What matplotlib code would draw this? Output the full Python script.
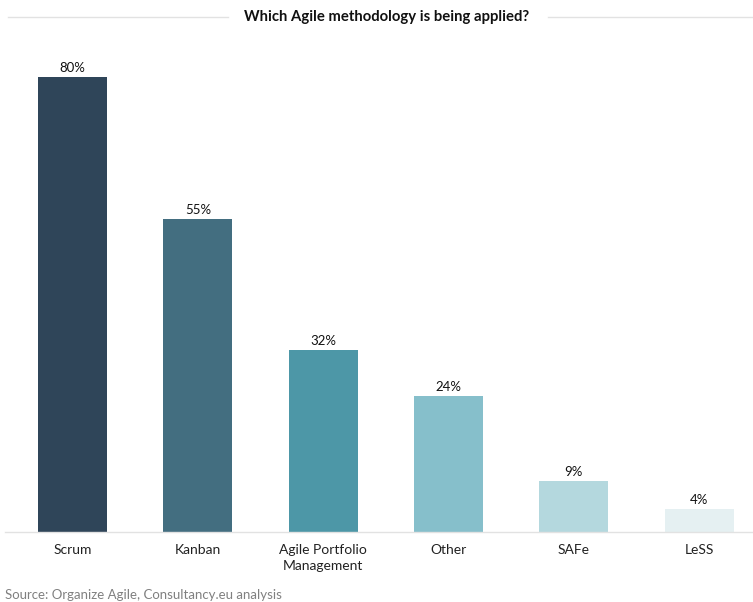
import matplotlib
matplotlib.use("Agg")
import matplotlib.pyplot as plt
from matplotlib.lines import Line2D

categories = ["Scrum", "Kanban", "Agile Portfolio\nManagement", "Other", "SAFe", "LeSS"]
values = [80, 55, 32, 24, 9, 4]
value_labels = ["80%", "55%", "32%", "24%", "9%", "4%"]
colors = ["#2f4559", "#436e80", "#4d97a7", "#86bfcb", "#b4d8de", "#e5f0f2"]
title = "Which Agile methodology is being applied?"
source = "Source: Organize Agile, Consultancy.eu analysis"

plt.rcParams['font.family'] = ['Lato', 'DejaVu Sans']

W, H = 753, 602
fig = plt.figure(figsize=(W / 100, H / 100), dpi=100)

base_px = 532
top_px = 77
ymax = 90
ax_h = (base_px - top_px) / H * ymax / 80
ax = fig.add_axes([5 / W, (H - base_px) / H, 748 / W, ax_h])

x = list(range(len(categories)))
ax.bar(x, values, width=0.55, color=colors)
for xi, v, lab in zip(x, values, value_labels):
    ax.text(xi, v + 0.5, lab, ha="center", va="bottom", fontsize=9.5, color="#111111")

ax.set_xlim(-0.539, 5.43)
ax.set_ylim(0, ymax)
ax.set_xticks(x)
ax.set_xticklabels(categories, fontsize=10, color="#222222", linespacing=1.3)
ax.tick_params(axis="x", length=0, pad=9)
ax.set_yticks([])
for s in ["top", "right", "left"]:
    ax.spines[s].set_visible(False)
ax.spines["bottom"].set_color("#e2e2e2")
ax.spines["bottom"].set_linewidth(1)

# Title with side rules
ty = 1 - 17 / H
fig.text(387 / W, ty, title, ha="center", va="center", fontsize=10.7, fontweight="bold", color="#111111")
fig.add_artist(Line2D([8 / W, 228 / W], [ty, ty], transform=fig.transFigure, color="#e2e2e2", lw=1))
fig.add_artist(Line2D([548 / W, 753 / W], [ty, ty], transform=fig.transFigure, color="#e2e2e2", lw=1))

fig.text(5 / W, 1 - 595 / H, source, ha="left", va="center", fontsize=9.5, color="#808080")

fig.savefig("out.png", dpi=100)
